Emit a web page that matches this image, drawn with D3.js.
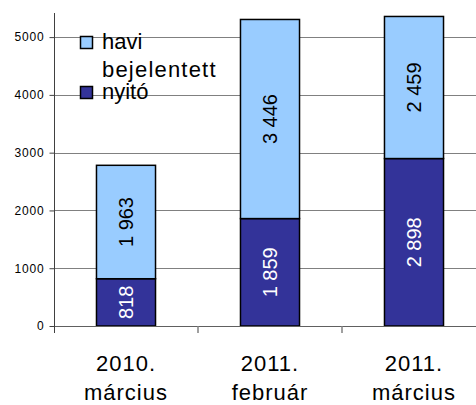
<!DOCTYPE html>
<html>
<head>
<meta charset="utf-8">
<script src="https://cdn.jsdelivr.net/npm/d3@7"></script>
<style>
  body { margin: 0; background: #fff; }
  svg { display: block; font-family: "Liberation Sans", Arial, sans-serif; }
</style>
</head>
<body>
<div id="chart"></div>
<script>
var categories = [["2010.", "március"], ["2011.", "február"], ["2011.", "március"]];
var nyito = [818, 1859, 2898];
var haviBejelentett = [1963, 3446, 2459];
var yTicks = [0, 1000, 2000, 3000, 4000, 5000];
var seriesNames = ["havi bejelentett", "nyitó"];

var w = 476, h = 405;
var plotLeft = 54, plotBottom = 326, plotTop = 13;
var colorLight = "#99ccff", colorDark = "#333399";

var svg = d3.select("#chart")
    .append("svg")
    .attr("width", w)
    .attr("height", h);

var x = d3.scaleBand()
    .domain(d3.range(categories.length))
    .range([plotLeft, plotLeft + 144 * categories.length])
    .paddingInner(0.59)
    .paddingOuter(0.295);

var y = d3.scaleLinear()
    .domain([0, 5417])
    .range([plotBottom, plotTop]);

var fmt = d3.formatLocale({decimal: ",", thousands: " ", grouping: [3], currency: ["", ""]}).format(",");

// gridlines
svg.append("g").selectAll("line")
    .data(yTicks.slice(1))
    .enter()
    .append("line")
    .attr("x1", plotLeft).attr("x2", w)
    .attr("y1", function (d) { return Math.round(y(d)) + 0.5; })
    .attr("y2", function (d) { return Math.round(y(d)) + 0.5; })
    .attr("stroke", "#808080")
    .attr("stroke-width", 1);

// stacked bars
var stackData = categories.map(function (c, i) {
    return {i: i, nyito: nyito[i], havi: haviBejelentett[i]};
});

var bars = svg.append("g");
stackData.forEach(function (d) {
    var segs = [
        {v0: 0, v1: d.nyito, fill: colorDark, text: "#fff"},
        {v0: d.nyito, v1: d.nyito + d.havi, fill: colorLight, text: "#000"}
    ];
    segs.forEach(function (s) {
        bars.append("rect")
            .attr("x", x(d.i))
            .attr("width", x.bandwidth())
            .attr("y", y(s.v1))
            .attr("height", y(s.v0) - y(s.v1))
            .attr("fill", s.fill)
            .attr("stroke", "#000")
            .attr("stroke-width", 1.5);
        var cx = x(d.i) + x.bandwidth() / 2;
        var cy = (y(s.v0) + y(s.v1)) / 2;
        bars.append("text")
            .attr("transform", "translate(" + (cx + 7) + "," + cy + ") rotate(-90)")
            .attr("text-anchor", "middle")
            .attr("font-size", 20)
            .attr("fill", s.text)
            .text(fmt(s.v1 - s.v0));
    });
});

// x axis
svg.append("line")
    .attr("x1", plotLeft).attr("x2", w)
    .attr("y1", plotBottom + 0.5).attr("y2", plotBottom + 0.5)
    .attr("stroke", "#606060");
svg.append("g").selectAll("line")
    .data(d3.range(1, categories.length))
    .enter()
    .append("line")
    .attr("x1", function (i) { return x(i) - x.step() * x.paddingInner() / 2; })
    .attr("x2", function (i) { return x(i) - x.step() * x.paddingInner() / 2; })
    .attr("y1", plotBottom).attr("y2", plotBottom + 7)
    .attr("stroke", "#808080")
    .attr("stroke-width", 1.5);

var catLabels = svg.append("g");
categories.forEach(function (c, i) {
    var cx = x(i) + x.bandwidth() / 2;
    var t = catLabels.append("text")
        .attr("text-anchor", "middle")
        .attr("font-size", 22)
        .attr("letter-spacing", 1)
        .attr("fill", "#000");
    t.append("tspan").attr("x", cx).attr("y", 371).text(c[0]);
    t.append("tspan").attr("x", cx).attr("y", 400).text(c[1]);
});

// y axis
var yAxis = svg.append("g")
    .attr("transform", "translate(" + (plotLeft + 0.5) + ",0)")
    .call(d3.axisLeft(y).tickValues(yTicks).tickSize(5).tickPadding(5).tickFormat(d3.format("d")));
yAxis.select(".domain").remove();
yAxis.selectAll(".tick line").attr("stroke", "#404040");
yAxis.selectAll(".tick text")
    .attr("font-size", 12)
    .attr("letter-spacing", 0.8)
    .attr("font-family", "Liberation Sans, Arial, sans-serif")
    .attr("fill", "#000");
svg.append("line")
    .attr("x1", plotLeft + 0.5).attr("x2", plotLeft + 0.5)
    .attr("y1", plotTop).attr("y2", plotBottom + 7)
    .attr("stroke", "#404040");

// legend
var legend = svg.append("g");
var legendItems = [
    {lines: ["havi", "bejelentett"], color: colorLight, y: 36},
    {lines: ["nyitó"], color: colorDark, y: 86}
];
legendItems.forEach(function (it) {
    legend.append("rect")
        .attr("x", 80.5).attr("y", it.y + 0.5)
        .attr("width", 12).attr("height", 12)
        .attr("fill", it.color)
        .attr("stroke", "#000")
        .attr("stroke-width", 1.5);
    it.lines.forEach(function (ln, j) {
        legend.append("text")
            .attr("x", 102)
            .attr("y", it.y + 13 + j * 28)
            .attr("font-size", 22)
            .attr("letter-spacing", j ? 1.2 : 0)
            .attr("fill", "#000")
            .text(ln);
    });
});
</script>
</body>
</html>
